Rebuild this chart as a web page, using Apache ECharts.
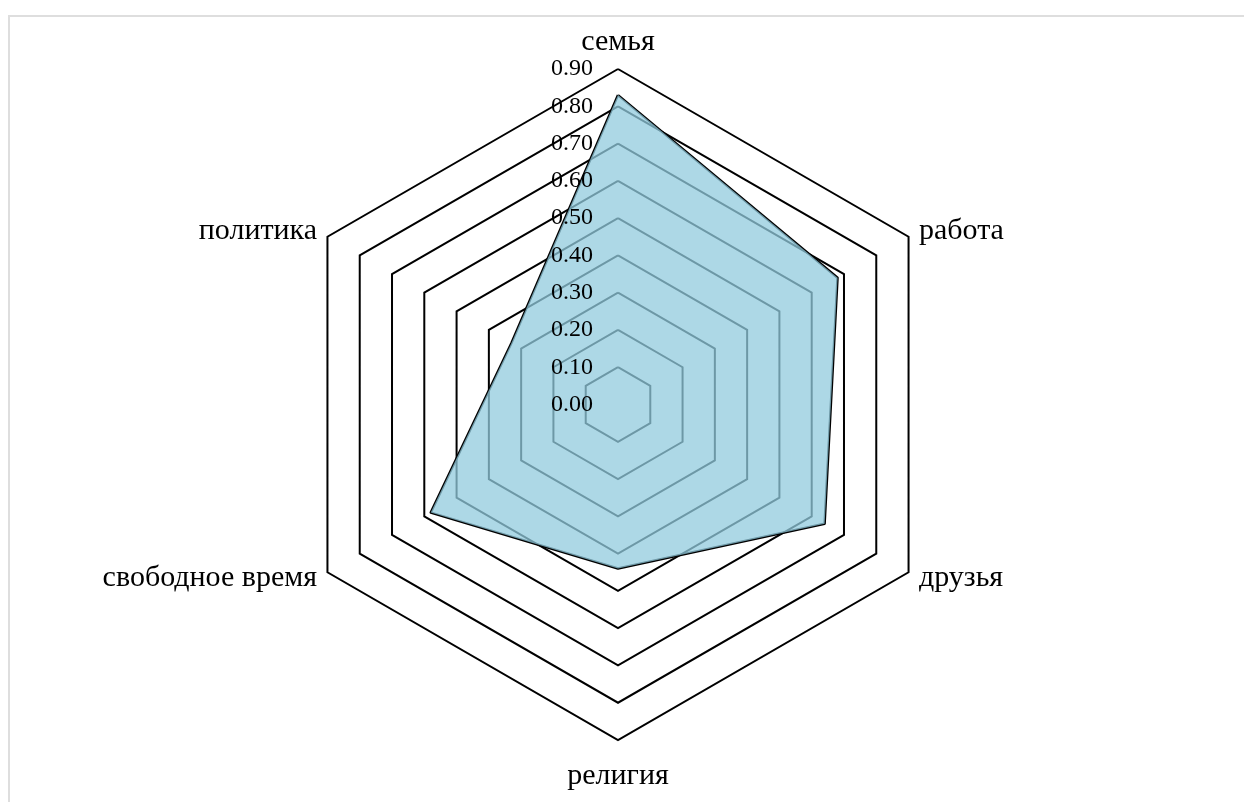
<!DOCTYPE html>
<html>
<head>
<meta charset="utf-8">
<script src="https://cdn.jsdelivr.net/npm/echarts@6/dist/echarts.min.js"></script>
<style>
  html, body { margin: 0; padding: 0; background: #fff; }
  #chart { position: absolute; left: 0; top: 0; width: 1244px; height: 802px; }
  #frame { position: absolute; left: 8px; top: 15px; width: 1400px; height: 900px;
           border-left: 2px solid #dedede; border-top: 2px solid #dedede; box-sizing: border-box; }
</style>
</head>
<body>
<div id="frame"></div>
<div id="chart"></div>
<script>
// Categories listed clockwise starting from the top, as in the reference
const categories = ['семья', 'работа', 'друзья', 'религия', 'свободное время', 'политика'];
const values = [0.83, 0.68, 0.64, 0.44, 0.58, 0.33];
const axisMax = 0.9;
const tickInterval = 0.1;

const FONT = 'Liberation Serif';
const chart = echarts.init(document.getElementById('chart'), null, { renderer: 'canvas' });

// ECharts radar runs counter-clockwise; reorder (keeping the first) so the chart reads clockwise
const order = [0].concat(categories.map((_, i) => i).slice(1).reverse());
const radarNames = order.map(i => categories[i]);
const radarValues = order.map(i => values[i]);

const center = [618, 404.5];
const radius = 335.5;
const splitNumber = Math.round(axisMax / tickInterval);
const bottomName = categories[3];

chart.setOption({
  animation: false,
  backgroundColor: 'transparent',
  radar: [{
    z: 0,
    center: center,
    radius: radius,
    startAngle: 90,
    shape: 'polygon',
    splitNumber: splitNumber,
    indicator: radarNames.map(name => ({ name: name, min: 0, max: axisMax })),
    axisName: {
      color: '#000', fontFamily: FONT, fontSize: 30,
      formatter: name => name === bottomName ? '{low|' + name + '}' : name,
      rich: { low: { color: '#000', fontFamily: FONT, fontSize: 30, padding: [9, 0, 0, 0] } }
    },
    nameGap: 12,
    axisLine: { show: false },
    axisTick: { show: false },
    splitArea: { show: false },
    splitLine: { lineStyle: { color: '#000', width: 2 } },
    axisLabel: { show: false }
  }, {
    z: 10,
    center: center,
    radius: radius,
    startAngle: 90,
    shape: 'polygon',
    splitNumber: splitNumber,
    indicator: radarNames.map((name, i) => ({ name: name, min: 0, max: axisMax, axisLabel: { show: i === 0 } })),
    axisName: { show: false },
    axisLine: { show: false },
    axisTick: { show: false },
    splitArea: { show: false },
    splitLine: { show: false },
    axisLabel: {
      show: true,
      color: '#000',
      fontFamily: FONT,
      fontSize: 24,
      margin: 25,
      formatter: v => Number(v).toFixed(2)
    }
  }],
  series: [{
    type: 'radar',
    radarIndex: 0,
    symbol: 'none',
    lineStyle: { color: '#000', width: 2.5 },
    areaStyle: { color: 'rgba(146,203,222,0.75)', opacity: 1 },
    data: [{ value: radarValues }]
  }]
});
</script>
</body>
</html>
